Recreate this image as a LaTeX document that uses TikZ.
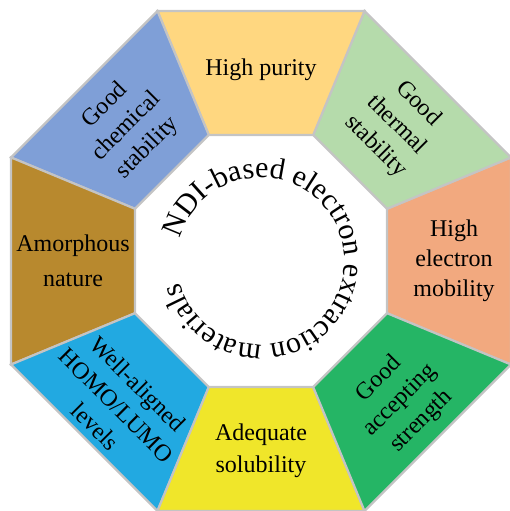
\documentclass[tikz,border=0pt]{standalone}
\usepackage{fontspec}
\setmainfont{Liberation Serif}
\usetikzlibrary{decorations.text}
\definecolor{cmob}{HTML}{F2A97F}
\definecolor{ctherm}{HTML}{B5DBAB}
\definecolor{cpur}{HTML}{FFD780}
\definecolor{cchem}{HTML}{7F9FD7}
\definecolor{camor}{HTML}{B8892E}
\definecolor{chomo}{HTML}{22A9E1}
\definecolor{csol}{HTML}{F0E62A}
\definecolor{cacc}{HTML}{25B565}
\definecolor{segline}{HTML}{C4C4C4}
\begin{document}
\begin{tikzpicture}[x=1pt,y=1pt,
  seg/.style={draw=segline, line width=2.2pt, line join=miter},
  lbl/.style={font=\fontsize{24}{30}\selectfont, align=center, text=black}]
\useasboundingbox (-261,-250) rectangle (249,261);
\clip (-261,-250) rectangle (249,261);
\foreach \k/\c in {0/cmob,1/ctherm,2/cpur,3/cchem,4/camor,5/chomo,6/csol,7/cacc}{
  \draw[seg, fill=\c] ({\k*45-22.5}:270.6) -- ({\k*45+22.5}:270.6)
     -- ({\k*45+22.5}:136.4) -- ({\k*45-22.5}:136.4) -- cycle;
}
\node[lbl] (mob) at (0:193) {High\\electron\\mobility};
\node[lbl, rotate=-45] (therm) at (45:192) {Good\\thermal\\stability};
\node[lbl] (pur) at (90:191) {High purity};
\node[lbl, rotate=45] (chem) at (135:190) {Good\\chemical\\stability};
\node[lbl, font=\fontsize{24}{35}\selectfont] (amor) at (180:188) {Amorphous\\nature};
\node[lbl, rotate=-45] (homo) at (-135:204) {Well-aligned\\HOMO/LUMO\\levels};
\node[lbl, font=\fontsize{24}{32}\selectfont] (sol) at (-90:190) {Adequate\\solubility};
\node[lbl, rotate=45] (acc) at (-45:197) {Good\\accepting\\strength};
\path[decorate, decoration={text along path, text align=center,
  text={|\fontsize{30}{36}\selectfont|NDI-based electron extraction materials}}]
  (180:83.5) arc[start angle=180, end angle=-180, radius=83.5];
\end{tikzpicture}
\end{document}
